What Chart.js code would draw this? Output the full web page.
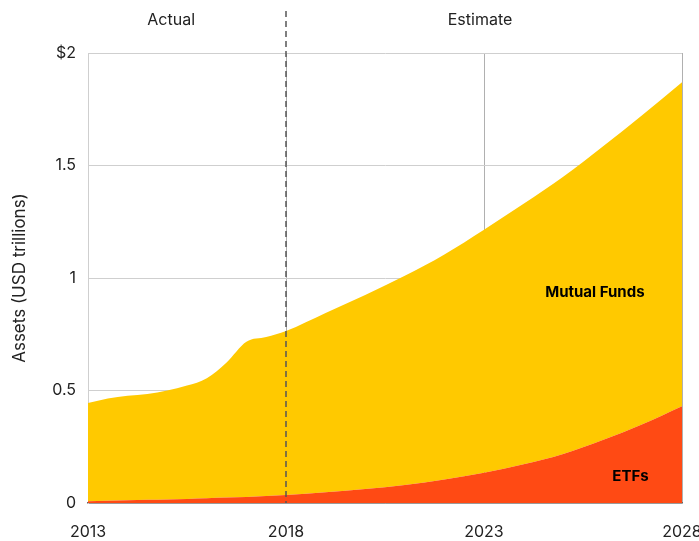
<!DOCTYPE html>
<html>
<head>
<meta charset="utf-8">
<script src="https://cdn.jsdelivr.net/npm/chart.js@4/dist/chart.umd.min.js"></script>
<style>
  html, body { margin: 0; padding: 0; background: #fff; }
  #wrap { width: 699px; height: 541px; position: relative; }
</style>
</head>
<body>
<div id="wrap"><canvas id="chart"></canvas></div>
<script>
// years (half-yearly for actuals, yearly for estimates)
var years = [2013, 2013.5, 2014, 2014.5, 2015, 2015.5, 2016, 2016.5, 2017, 2017.5, 2018,
             2019, 2020, 2021, 2022, 2023, 2024, 2025, 2026, 2027, 2028];
var etfs = [0.008, 0.010, 0.012, 0.014, 0.016, 0.018, 0.021, 0.024, 0.027, 0.031, 0.036,
            0.048, 0.062, 0.080, 0.105, 0.135, 0.172, 0.218, 0.280, 0.350, 0.430];
var mutualFunds = [0.437, 0.455, 0.465, 0.471, 0.484, 0.504, 0.534, 0.601, 0.690, 0.707, 0.729,
                   0.797, 0.863, 0.930, 1.000, 1.080, 1.158, 1.232, 1.305, 1.375, 1.440];
var yTicks = [0, 0.5, 1, 1.5, 2];
var xTicks = [2013, 2018, 2023, 2028];
var splitYear = 2018;

var FONT = 'Inter, "Open Sans", sans-serif';

function pts(vals){
    return years.map(function(y, i){ return {x: y, y: vals[i]}; });
}

var canvas = document.getElementById('chart');
canvas.getContext('2d').letterSpacing = '0.6px';

var overlay = {
    id: 'overlay',
    afterDatasetsDraw: function(chart){
        var ctx = chart.ctx, xs = chart.scales.x, ys = chart.scales.y, a = chart.chartArea;
        var xd = xs.getPixelForValue(splitYear);
        ctx.save();
        ctx.strokeStyle = '#555';
        ctx.lineWidth = 1.5;
        ctx.setLineDash([6, 4]);
        ctx.beginPath();
        ctx.moveTo(xd, 11);
        ctx.lineTo(xd, a.bottom);
        ctx.stroke();
        ctx.setLineDash([]);

        ctx.fillStyle = '#222';
        ctx.font = '16px ' + FONT;
        ctx.textAlign = 'center';
        ctx.textBaseline = 'middle';
        ctx.fillText('Actual', xs.getPixelForValue(2015.1), 20);
        ctx.fillText('Estimate', xs.getPixelForValue(2022.9), 20);

        ctx.fillStyle = '#000';
        ctx.font = 'bold 15px ' + FONT;
        ctx.fillText('Mutual Funds', xs.getPixelForValue(2025.8), ys.getPixelForValue(0.935));
        ctx.fillText('ETFs', xs.getPixelForValue(2026.7), ys.getPixelForValue(0.12));
        ctx.restore();
    }
};

new Chart(canvas, {
    type: 'line',
    data: {
        datasets: [{
            label: 'ETFs',
            data: pts(etfs),
            backgroundColor: '#FF4A14',
            borderWidth: 0,
            pointRadius: 0,
            fill: 'origin',
            cubicInterpolationMode: 'monotone'
        }, {
            label: 'Mutual Funds',
            data: pts(mutualFunds),
            backgroundColor: '#FFC900',
            borderWidth: 0,
            pointRadius: 0,
            fill: '-1',
            cubicInterpolationMode: 'monotone'
        }]
    },
    options: {
        responsive: true,
        maintainAspectRatio: false,
        animation: false,
        layout: {padding: {top: 53, right: 17, left: 0, bottom: 0}},
        plugins: {legend: {display: false}, tooltip: {enabled: false}},
        scales: {
            x: {
                type: 'linear',
                min: 2013, max: 2028,
                afterFit: function(s){ s.height = 38; s.paddingLeft = 0; s.paddingRight = 0; },
                afterBuildTicks: function(s){ s.ticks = xTicks.map(function(v){ return {value: v}; }); },
                ticks: {
                    color: '#222',
                    font: {family: FONT, size: 16},
                    padding: 20,
                    maxRotation: 0,
                    callback: function(v){ return String(v); }
                },
                grid: {color: '#b0b0b0', drawTicks: false},
                border: {color: '#666', width: 1.5}
            },
            y: {
                stacked: true,
                min: 0, max: 2,
                afterFit: function(s){ s.width = 88; s.paddingTop = 0; s.paddingBottom = 0; },
                afterBuildTicks: function(s){ s.ticks = yTicks.map(function(v){ return {value: v}; }); },
                ticks: {
                    color: '#222',
                    font: {family: FONT, size: 16},
                    padding: 12,
                    callback: function(v){ return v === 2 ? '$2' : String(v); }
                },
                title: {
                    display: true,
                    text: 'Assets (USD trillions)',
                    color: '#222',
                    font: {family: FONT, size: 17},
                    padding: {top: 10, bottom: 4}
                },
                grid: {color: '#cfcfcf', drawTicks: false},
                border: {color: '#cfcfcf'}
            }
        }
    },
    plugins: [overlay]
});
</script>
</body>
</html>
